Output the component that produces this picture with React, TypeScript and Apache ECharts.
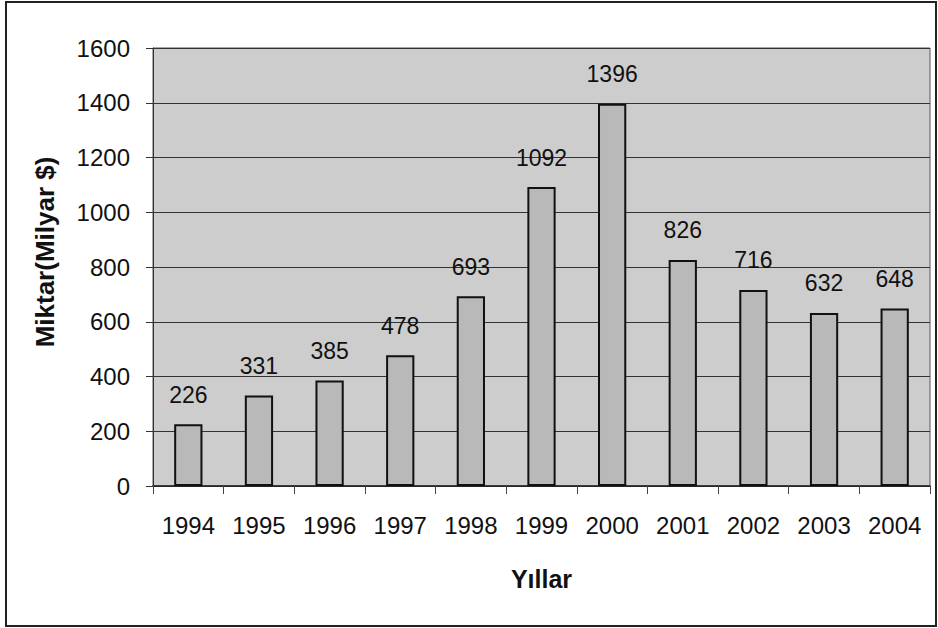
import React, { useEffect, useRef } from "react";
import * as echarts from "echarts";

const years = ["1994", "1995", "1996", "1997", "1998", "1999", "2000", "2001", "2002", "2003", "2004"];
const amounts = [226, 331, 385, 478, 693, 1092, 1396, 826, 716, 632, 648];
const yTitle = "Miktar(Milyar $)";
const xTitle = "Yıllar";

const FONT = "'Liberation Sans', Arial, sans-serif";

export default function App() {
  const ref = useRef<HTMLDivElement>(null);
  useEffect(() => {
    if (!ref.current) return;
    const chart = echarts.init(ref.current, undefined, { renderer: "svg" });
    chart.setOption({
      animation: false,
      backgroundColor: "#ffffff",
      textStyle: { fontFamily: FONT },
      grid: { left: 153, right: 8, top: 48, bottom: 142, show: true, backgroundColor: "#cdcdcd", borderColor: "#555", borderWidth: 1 },
      graphic: [
        { type: "rect", shape: { x: 6, y: 2, width: 930, height: 624 }, style: { fill: "none", stroke: "#222", lineWidth: 2 }, silent: true, z: -10 },
        {
          type: "text",
          x: 45,
          y: 252,
          rotation: Math.PI / 2,
          style: { text: yTitle, font: `bold 26px ${FONT}`, fill: "#111", align: "center", verticalAlign: "middle" },
          silent: true,
        },
      ],
      xAxis: {
        type: "category",
        data: years,
        name: xTitle,
        nameLocation: "middle",
        nameGap: 80,
        nameTextStyle: { fontSize: 25, fontWeight: "bold", color: "#111", fontFamily: FONT },
        axisLine: { lineStyle: { color: "#222", width: 1.5 } },
        axisTick: { show: true, length: 8, lineStyle: { color: "#444" }, alignWithLabel: false },
        axisLabel: { fontSize: 24, color: "#111", margin: 27, fontFamily: FONT },
        splitLine: { show: false },
      },
      yAxis: {
        type: "value",
        min: 0,
        max: 1600,
        interval: 200,
        axisLine: { show: true, lineStyle: { color: "#333", width: 1 } },
        axisTick: { show: true, length: 7, lineStyle: { color: "#333" } },
        axisLabel: { fontSize: 24, color: "#111", margin: 23, fontFamily: FONT, formatter: (v: number) => String(v) },
        splitLine: { show: true, lineStyle: { color: "#333", width: 1 } },
      },
      series: [
        {
          type: "bar",
          data: amounts,
          barWidth: "40%",
          itemStyle: { color: "#b9b9b9", borderColor: "#111", borderWidth: 2 },
          label: { show: true, position: "top", distance: 18, fontSize: 23, color: "#111", fontFamily: FONT },
        },
      ],
    });
    return () => chart.dispose();
  }, []);
  return <div ref={ref} style={{ position: "fixed", left: 0, top: 0, width: 938, height: 628 }} />;
}
